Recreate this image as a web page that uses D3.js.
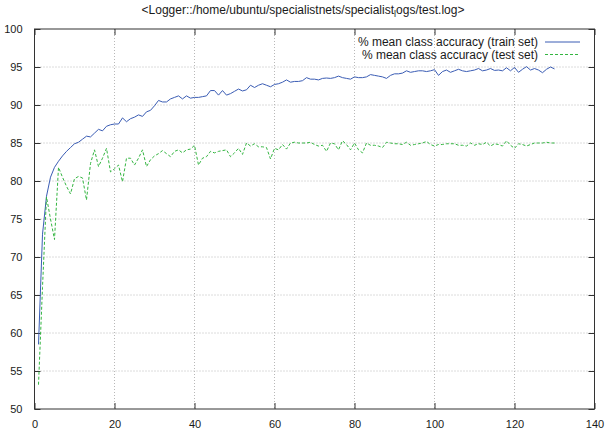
<!DOCTYPE html>
<html><head><meta charset="utf-8">
<script src="https://cdn.jsdelivr.net/npm/d3@7"></script>
<style>body{margin:0;background:#fff}svg{display:block}text{font-family:"Liberation Sans",Arial,sans-serif;fill:#1a1a1a}</style>
</head><body><svg id="c" width="607" height="429"></svg>
<script>
const epochs = d3.range(1, 131);
const trainAcc = [58.5,73.0,78.0,80.5,81.8,82.6,83.3,83.9,84.4,84.9,85.1,85.5,85.9,85.8,86.3,86.8,86.6,87.2,87.4,87.5,
87.5,88.3,87.8,88.2,88.4,88.7,88.5,89.1,89.3,89.9,90.6,90.4,90.4,90.8,91.0,91.2,90.8,91.2,90.9,91.0,
91.0,91.1,91.2,91.9,91.9,91.3,91.9,91.3,91.5,91.8,92.1,91.85,92.0,92.6,92.3,92.6,92.8,92.6,92.4,92.7,
92.8,93.0,93.3,93.0,93.1,93.1,93.2,93.6,93.4,93.4,93.3,93.5,93.55,93.5,93.6,93.8,93.6,93.5,93.4,93.7,
93.6,93.6,93.7,94.0,93.9,93.8,93.7,93.5,93.9,94.1,94.1,94.2,94.5,94.3,94.4,94.5,94.5,94.4,94.5,94.65,
93.9,94.4,94.6,94.3,94.5,94.7,94.5,94.4,94.5,94.6,94.8,94.5,94.6,94.8,94.55,94.6,94.5,94.9,94.5,94.95,
94.3,94.7,95.05,94.6,94.8,94.6,94.25,94.7,95.0,94.75];
const testAcc = [53.2,66.0,77.9,75.0,72.3,81.8,80.5,79.3,78.3,80.3,80.6,80.4,77.5,82.3,84.1,81.9,83.0,84.3,81.2,81.6,
82.1,79.9,83.0,83.0,82.1,83.0,84.1,81.9,82.8,83.3,83.6,84.0,83.6,83.2,83.9,84.1,83.7,84.1,84.2,84.7,
82.1,83.0,83.2,83.9,83.7,83.9,84.0,84.1,83.2,83.7,84.3,83.5,85.0,84.6,84.9,84.5,84.5,84.4,82.9,84.3,
84.1,84.8,84.2,85.0,85.1,85.0,85.0,85.0,85.1,84.8,84.6,84.7,83.9,85.0,84.9,84.1,85.3,84.8,84.1,85.0,
84.1,83.7,85.0,84.7,84.7,84.6,84.4,85.1,85.0,84.9,84.9,84.8,85.1,84.7,84.8,84.9,85.0,85.2,84.8,84.6,
84.8,84.8,84.9,84.9,84.9,84.7,84.7,84.6,85.0,84.7,84.9,84.8,85.1,84.6,84.9,84.8,84.6,85.3,84.7,84.3,
84.9,84.8,84.6,84.8,85.0,85.0,85.0,85.1,85.0,85.0];
const xTicks = [0,20,40,60,80,100,120,140];
const yTicks = [50,55,60,65,70,75,80,85,90,95,100];
const seriesNames = ["% mean class accuracy (train set)", "% mean class accuracy (test set)"];
const seriesColors = ["#3a5cb4", "#33b540"];

const svg = d3.select("#c");
const L = 34.5, R = 594.5, T = 29, B = 409;
const x = d3.scaleLinear().domain([0,140]).range([L,R]);
const y = d3.scaleLinear().domain([50,100]).range([B,T]);

// grid
const g = svg.append("g");
g.selectAll(".gx").data(xTicks.slice(1,-1)).enter().append("line")
  .attr("x1",d=>x(d)).attr("x2",d=>x(d)).attr("y1",T).attr("y2",B)
  .attr("stroke","#b8b8b8").attr("stroke-width",1).attr("stroke-dasharray","1,2");
g.selectAll(".gy").data(yTicks.slice(1,-1)).enter().append("line")
  .attr("y1",d=>y(d)).attr("y2",d=>y(d)).attr("x1",L).attr("x2",R)
  .attr("stroke","#b8b8b8").attr("stroke-width",1).attr("stroke-dasharray","1,2");

// axes with inward ticks, mirrored
const tk = 6;
svg.append("g").attr("transform",`translate(0,${B})`)
  .call(d3.axisBottom(x).tickValues(xTicks).tickSize(-tk).tickPadding(tk+5).tickFormat(d3.format("d")))
  .call(a=>a.select(".domain").remove());
svg.append("g").attr("transform",`translate(0,${T})`)
  .call(d3.axisTop(x).tickValues(xTicks).tickSize(-tk).tickFormat(""))
  .call(a=>a.select(".domain").remove());
svg.append("g").attr("transform",`translate(${L},0)`)
  .call(d3.axisLeft(y).tickValues(yTicks).tickSize(-tk).tickPadding(tk+6).tickFormat(d3.format("d")))
  .call(a=>a.select(".domain").remove());
svg.append("g").attr("transform",`translate(${R},0)`)
  .call(d3.axisRight(y).tickValues(yTicks).tickSize(-tk).tickFormat(""))
  .call(a=>a.select(".domain").remove());
svg.selectAll(".tick line").attr("stroke","#333");
svg.selectAll(".tick text").attr("font-size",11).attr("font-family","Liberation Sans, Arial, sans-serif").attr("fill","#1a1a1a");

svg.append("rect").attr("x",L).attr("y",T).attr("width",R-L).attr("height",B-T)
  .attr("fill","none").attr("stroke","#333").attr("stroke-width",1);

// lines
const line = d3.line().x((d,i)=>x(epochs[i])).y(d=>y(d));
svg.append("path").datum(trainAcc).attr("d",line).attr("fill","none")
  .attr("stroke",seriesColors[0]).attr("stroke-width",1);
svg.append("path").datum(testAcc).attr("d",line).attr("fill","none")
  .attr("stroke",seriesColors[1]).attr("stroke-width",1).attr("stroke-dasharray","3,2");

// legend
const lg = svg.append("g");
seriesNames.forEach((n,i)=>{
  const yy = 42 + i*12.5;
  lg.append("text").attr("x",538).attr("y",yy).attr("dy","0.35em").attr("text-anchor","end")
    .attr("font-size",12).text(n);
  lg.append("line").attr("x1",545).attr("x2",580).attr("y1",yy).attr("y2",yy)
    .attr("stroke",seriesColors[i]).attr("stroke-width",1)
    .attr("stroke-dasharray", i===1 ? "3,2" : null);
});

// title
const t = svg.append("text").attr("x",303).attr("y",14).attr("text-anchor","middle").attr("font-size",12);
t.append("tspan").text("<Logger::/home/ubuntu/specialistnets/specialist");
t.append("tspan").attr("dy",3).attr("font-size",9).text("l");
t.append("tspan").attr("dy",-3).text("ogs/test.log>");
</script></body></html>
